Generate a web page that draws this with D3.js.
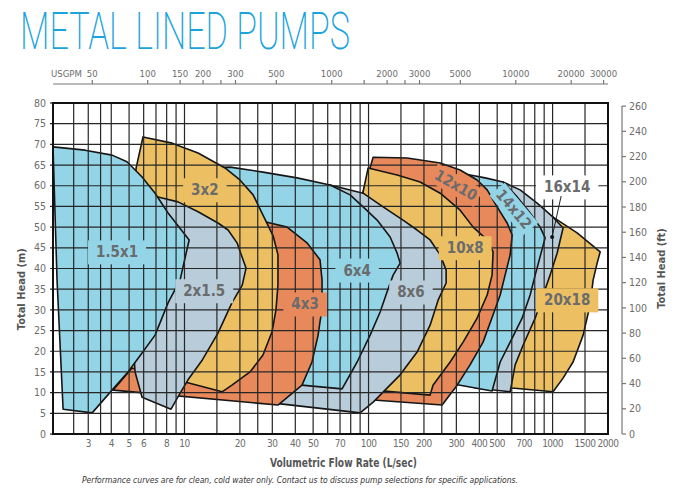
<!DOCTYPE html>
<html>
<head>
<meta charset="utf-8">
<script src="https://cdn.jsdelivr.net/npm/d3@7"></script>
<style>
  body { margin: 0; background: #fff; }
  svg { display: block; }
</style>
</head>
<body>
<div id="chart"></div>
<script>
// pump envelopes: [flow L/s, head m]
var pump1_5x1 = [[1.93,69.4],[2.88,68.6],[4.04,67.4],[4.87,65.8],[5.88,62.1],[6.92,58.2],[8.14,53.4],[10.6,46.9],[9.46,37.2],[8.14,31.7],[6.92,23.9],[5.88,19.6],[4.93,15.0],[4.04,10.6],[3.15,5.1],[2.19,6.0],[2.03,37.2]];
var pump2x1_5 = [[5.73,58.5],[7.18,57.3],[9.22,56.1],[11.85,53.7],[15.2,51.0],[17.25,49.3],[19.3,46.2],[20.8,42.1],[21.6,40.1],[20.6,36.0],[18.1,31.7],[15.2,24.4],[12.5,17.9],[10.45,13.1],[9.2,8.9],[8.45,6.0],[5.88,8.9],[5.39,15.0],[5.06,32.4]];
var pump3x2 = [[5.95,71.8],[8.56,70.3],[11.85,67.9],[16.6,64.3],[20.0,61.4],[23.6,57.8],[26.7,52.9],[30.3,47.9],[32.2,43.3],[32.2,36.0],[31.4,30.0],[29.9,24.7],[26.7,19.1],[22.7,15.0],[18.1,11.8],[16.0,10.2],[4.93,16.2],[4.75,32.4],[5.46,64.3]];
var pump4x3 = [[28.1,51.2],[36.1,50.0],[46.3,46.2],[54.5,42.1],[55.9,37.2],[55.9,30.5],[53.2,23.9],[49.3,17.4],[43.5,11.8],[32.2,7.0],[4.09,10.6],[10.7,32.4]];
var pump6x4 = [[12.9,64.3],[17.7,64.5],[26.7,63.3],[40.9,61.9],[61.8,60.2],[79.4,57.8],[93.4,54.9],[111.3,51.7],[131,47.6],[143,43.7],[148.5,41.3],[136,38.4],[126,34.3],[115.6,29.5],[102,23.9],[86.7,17.4],[71.8,10.9],[33.0,12.3]];
var pump8x6 = [[42.5,60.2],[61.8,60.2],[93.4,58.2],[120,54.9],[154,51.7],[183.6,49.3],[216,46.9],[245,43.3],[264,39.6],[264,36.5],[239,32.4],[216,26.3],[183.6,19.8],[148.5,14.3],[126,11.1],[106,7.7],[90,5.1],[27.4,7.7]];
var pump10x8 = [[99.5,64.3],[143,62.6],[190.6,60.9],[245,58.2],[314.5,54.1],[370,50.0],[441,46.9],[475,44.0],[469,38.4],[441,33.6],[389,28.0],[326.5,22.2],[277.5,17.4],[224,11.8],[216,9.4],[106,10.6],[84.5,11.1],[93.4,58.5]];
var pump12x10 = [[105.9,66.9],[162,66.7],[245,65.5],[314.5,63.8],[389,61.4],[441,59.0],[499.5,54.9],[566,51.0],[603,48.1],[588,43.3],[552,38.4],[519,33.6],[475,28.8],[419,22.2],[356,16.7],[303,11.8],[251,7.0],[106,8.2],[79.4,8.7],[93.4,58.5]];
var pump14x12 = [[295.4,63.3],[356,62.6],[430,61.9],[538,60.9],[642,57.3],[755,53.4],[855.5,50.0],[911,47.4],[804,38.4],[755,33.6],[683,28.0],[588,22.2],[519,17.4],[469,10.4],[314.5,11.8],[261,12.3]];
var pump16x14 = [[487,60.7],[538,60.9],[666,59.0],[824,55.8],[1006,52.4],[1140,49.8],[1058,43.7],[969.5,38.4],[888,33.6],[804,28.0],[692,21.5],[626,16.7],[588,10.2],[380,11.1]];
var pump20x18 = [[755,55.3],[1006,52.4],[1359,48.6],[1813,44.0],[1746,41.3],[1660,37.2],[1599,31.2],[1465,23.9],[1292,17.4],[1140,13.5],[1006,10.2],[602,11.1],[518,11.6]];

// back to front
var pumpNames = ["20x18","16x14","14x12","12x10","10x8","8x6","6x4","4x3","3x2","2x1.5","1.5x1"];
var pumpShapes = [pump20x18, pump16x14, pump14x12, pump12x10, pump10x8, pump8x6, pump6x4, pump4x3, pump3x2, pump2x1_5, pump1_5x1];
var pumpKinds = ["yellow","grey","blue","orange","yellow","grey","blue","orange","yellow","grey","blue"];

// where each name sits [flow, head] and its tilt
var labelFlow = [1200, 1200, 618, 299, 335, 170, 86.7, 45.2, 12.9, 12.8, 4.3];
var labelHead = [32.4, 59.7, 54.4, 60.2, 45.0, 34.3, 39.6, 31.4, 59.0, 34.6, 44.0];
var labelTilt = [0, 0, 50, 30, 0, 0, 0, 0, 0, 0, 0];
var pointer16x14 = [994, 47.6];

var gridFlow = [2.5,3,3.5,4,5,6,7,8,9,10,15,20,25,30,40,50,60,70,80,90,100,150,200,250,300,400,500,600,700,800,900,1000,1500];
var flowTicks = [3,4,5,6,8,10,20,30,40,50,70,100,150,200,300,400,500,700,1000,1500,2000];
var gpmTicks = [50,100,150,200,250,300,500,1000,1500,2000,2500,3000,5000,10000,20000,30000];
var gpmLabels = [50,100,150,200,300,500,1000,2000,3000,5000,10000,20000,30000];
var headTicks = d3.range(0, 81, 5);
var feetTicks = d3.range(0, 261, 20);

var colour = { blue: "#93d5e7", grey: "#b8cdd9", yellow: "#ecc062", orange: "#e8895b" };

var W = 676, H = 496;
var svg = d3.select("#chart").append("svg")
  .attr("width", W).attr("height", H)
  .style("font-family", "'DejaVu Sans Condensed','DejaVu Sans',sans-serif");

var x = d3.scaleLog().domain([1.93, 2000]).range([53, 608]);
var y = d3.scaleLinear().domain([0, 80]).range([434, 103]);
var LPS_PER_GPM = 1 / 15.85;
var M_PER_FT = 0.3048;

// title
svg.append("text")
  .attr("x", 20).attr("y", 49)
  .attr("textLength", 330).attr("lengthAdjust", "spacingAndGlyphs")
  .style("font-family", "Roboto, 'DejaVu Sans', sans-serif")
  .style("font-weight", 200)
  .style("font-size", "52px")
  .attr("fill", "#1ba3dc")
  .text("METAL LINED PUMPS");

svg.append("clipPath").attr("id", "plotClip")
  .append("rect").attr("x", 53).attr("y", 103).attr("width", 555).attr("height", 331);

var outline = d3.line()
  .x(function(d) { return x(d[0]); })
  .y(function(d) { return y(d[1]); })
  .curve(d3.curveLinearClosed);

var polys = svg.append("g").attr("clip-path", "url(#plotClip)");
pumpShapes.forEach(function(pts, i) {
  polys.append("path")
    .attr("d", outline(pts))
    .attr("fill", colour[pumpKinds[i]])
    .attr("stroke", "#151515")
    .attr("stroke-width", 1.6)
    .attr("stroke-linejoin", "round");
});

// grid sits on top of the shapes
var grid = svg.append("g");
grid.selectAll("line.h").data(headTicks.filter(function(d) { return d > 0 && d < 80; }))
  .join("line").attr("class", "h")
  .attr("x1", 50).attr("x2", 608)
  .attr("y1", function(d) { return y(d); }).attr("y2", function(d) { return y(d); })
  .attr("stroke", "#262626").attr("stroke-width", 1.2);
grid.selectAll("line.v").data(gridFlow)
  .join("line").attr("class", "v")
  .attr("x1", function(d) { return x(d); }).attr("x2", function(d) { return x(d); })
  .attr("y1", 103).attr("y2", 434)
  .attr("stroke", "#262626").attr("stroke-width", 1.2);
grid.selectAll("line.t").data([0, 80])
  .join("line").attr("class", "t")
  .attr("x1", 50).attr("x2", 53)
  .attr("y1", function(d) { return y(d); }).attr("y2", function(d) { return y(d); })
  .attr("stroke", "#262626").attr("stroke-width", 1.2);

svg.append("rect")
  .attr("x", 53).attr("y", 103).attr("width", 555).attr("height", 331)
  .attr("fill", "none").attr("stroke", "#111").attr("stroke-width", 2);

// pump names
var names = svg.append("g")
  .style("font-weight", "bold").style("font-size", "15px");
pumpNames.forEach(function(name, i) {
  var px = x(labelFlow[i]), py = y(labelHead[i]);
  var g = names.append("g").attr("transform", "translate(" + px + "," + py + ") rotate(" + labelTilt[i] + ")");
  var bg = g.append("rect");
  var t = g.append("text")
    .attr("text-anchor", "middle").attr("dy", "0.36em")
    .attr("fill", "#6a6b6d").text(name);
  var b = t.node().getBBox();
  var padX = labelTilt[i] ? 3 : 8, padY = labelTilt[i] ? 1 : 3;
  bg.attr("x", b.x - padX).attr("y", b.y - padY)
    .attr("width", b.width + 2 * padX).attr("height", b.height + 2 * padY)
    .attr("fill", name === "16x14" ? "#fff" : colour[pumpKinds[i]]);
});
var i16 = pumpNames.indexOf("16x14");
names.append("line")
  .attr("x1", x(labelFlow[i16]) - 6).attr("y1", y(labelHead[i16]) + 9)
  .attr("x2", x(pointer16x14[0])).attr("y2", y(pointer16x14[1]))
  .attr("stroke", "#222").attr("stroke-width", 1);
names.append("circle")
  .attr("cx", x(pointer16x14[0])).attr("cy", y(pointer16x14[1])).attr("r", 2)
  .attr("fill", "#111");

// left axis (m)
var tickSize = "10.5px", tickFill = "#6d6d6d";
svg.append("g").selectAll("text").data(headTicks).join("text")
  .attr("x", 46).attr("y", function(d) { return y(d); }).attr("dy", "0.35em")
  .attr("text-anchor", "end")
  .style("font-size", tickSize).attr("fill", tickFill)
  .text(function(d) { return d; });

// bottom axis (L/sec)
svg.append("g").selectAll("text").data(flowTicks).join("text")
  .attr("x", function(d) { return x(d); }).attr("y", 447)
  .attr("text-anchor", "middle")
  .style("font-size", "10px").style("letter-spacing", "-0.5px").attr("fill", tickFill)
  .text(function(d) { return d; });

// right axis (ft)
var yFt = function(ft) { return y(ft * M_PER_FT); };
var rightAxis = svg.append("g");
rightAxis.append("line")
  .attr("x1", 622).attr("x2", 622).attr("y1", yFt(0)).attr("y2", yFt(260))
  .attr("stroke", "#777").attr("stroke-width", 1.2);
rightAxis.selectAll("line.k").data(feetTicks).join("line").attr("class", "k")
  .attr("x1", 622).attr("x2", 626)
  .attr("y1", function(d) { return yFt(d); }).attr("y2", function(d) { return yFt(d); })
  .attr("stroke", "#777").attr("stroke-width", 1.2);
rightAxis.selectAll("text").data(feetTicks).join("text")
  .attr("x", 629).attr("y", function(d) { return yFt(d); }).attr("dy", "0.35em")
  .style("font-size", tickSize).attr("fill", tickFill)
  .text(function(d) { return d; });

// top axis (USGPM)
var gpmAxis = svg.append("g");
gpmAxis.append("line")
  .attr("x1", 53).attr("x2", 608).attr("y1", 84).attr("y2", 84)
  .attr("stroke", "#777").attr("stroke-width", 1.2);
gpmAxis.selectAll("line.k").data(gpmTicks).join("line").attr("class", "k")
  .attr("x1", function(d) { return x(d * LPS_PER_GPM); }).attr("x2", function(d) { return x(d * LPS_PER_GPM); })
  .attr("y1", 84).attr("y2", 80)
  .attr("stroke", "#777").attr("stroke-width", 1.2);
gpmAxis.selectAll("text").data(gpmLabels).join("text")
  .attr("x", function(d) { return x(d * LPS_PER_GPM); }).attr("y", 77)
  .attr("text-anchor", "middle")
  .style("font-size", "9.5px").attr("fill", tickFill)
  .text(function(d) { return d; });
gpmAxis.append("text")
  .attr("x", 51).attr("y", 77)
  .style("font-size", "9.5px").attr("fill", tickFill)
  .text("USGPM");

// axis titles
svg.append("text")
  .attr("transform", "translate(25," + y(35) + ") rotate(-90)")
  .attr("text-anchor", "middle")
  .style("font-size", "11px").style("font-weight", "bold").attr("fill", "#555")
  .text("Total Head (m)");
svg.append("text")
  .attr("transform", "translate(665," + y(40) + ") rotate(-90)")
  .attr("text-anchor", "middle")
  .style("font-size", "11px").style("font-weight", "bold").attr("fill", "#555")
  .text("Total Head (ft)");
svg.append("text")
  .attr("x", 270).attr("y", 467)
  .attr("textLength", 147).attr("lengthAdjust", "spacingAndGlyphs")
  .style("font-size", "12px").style("font-weight", "bold").attr("fill", "#555")
  .text("Volumetric Flow Rate (L/sec)");

svg.append("text")
  .attr("x", 82).attr("y", 483)
  .attr("textLength", 436).attr("lengthAdjust", "spacingAndGlyphs")
  .style("font-size", "8.5px").style("font-style", "italic").attr("fill", "#333")
  .text("Performance curves are for clean, cold water only. Contact us to discuss pump selections for specific applications.");
</script>
</body>
</html>
